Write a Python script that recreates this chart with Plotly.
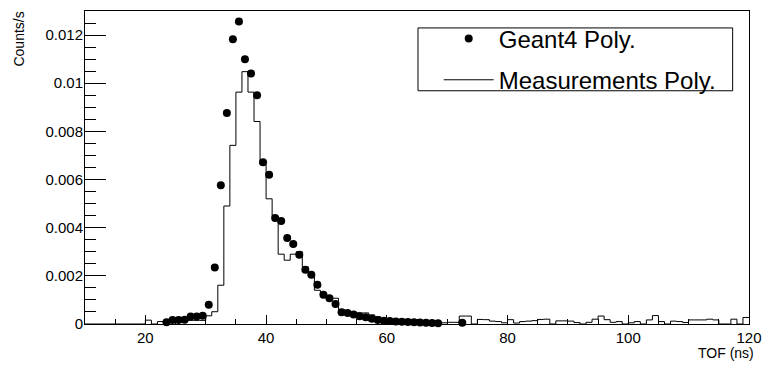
import plotly.graph_objects as go

# ---------------- data ----------------
# Measurements histogram: 1 ns bins, left edges 10..119
bin_left_edges = list(range(10, 120))
bin_right_edge = 120
meas_counts = [
    0, 0, 0, 0, 0, 0, 0, 0, 0, 0,                                  # 10-19
    0.00016, 0, 0.0001, 0.00007, 0.00007, 0.00012, 0.00012, 0.00015, 0.00015, 0.00015,  # 20-29
    0.00034, 0.00051, 0.00161, 0.0049, 0.00742, 0.00963, 0.01048, 0.00963, 0.00841, 0.00662,  # 30-39
    0.0052, 0.00447, 0.0029, 0.00265, 0.0029, 0.003, 0.00237, 0.002, 0.0014, 0.0012,  # 40-49
    0.00107, 0.00107, 0.0006, 0.00048, 0.00042, 0.00046, 0.00046, 0.00038, 0.0003, 0.00022,  # 50-59
    0.0002, 0.00015, 0.00013, 0.0001, 0.0001, 0.00009, 0.00008, 0.00007, 0.00006, 0.00005,  # 60-69
    0.00007, 0.00007, 0.00033, 0.00033, 0.0, 0.00019, 0.00018, 0.00012, 0.0001, 0.00005,  # 70-79
    0.00018, 0.00004, 0.0001, 0.00012, 0.00014, 0.00019, 0.0002, 0.0, 0.00013, 0.00013,  # 80-89
    0.00012, 0.00006, 0.0, 0.00007, 0.0002, 0.00033, 0.00018, 0.00007, 0.0001, 0.0,  # 90-99
    0.00005, 0.0001, 0.0, 0.00017, 0.00035, 0.0001, 0.0, 0.00012, 0.0001, 0.00006,  # 100-109
    0.00017, 0.00017, 0.00017, 0.0002, 0.00017, 0.0, 0.0, 0.0002, 0.0, 0.00027,  # 110-119
]

# Geant4 simulation points (bin centres)
geant_x = [23.5, 24.5, 25.5, 26.5, 27.5, 28.5, 29.5, 30.5, 31.5, 32.5,
           33.5, 34.5, 35.5, 36.5, 37.5, 38.5, 39.5, 40.5, 41.5, 42.5,
           43.5, 44.5, 45.5, 46.5, 47.5, 48.5, 49.5, 50.5, 51.5, 52.5,
           53.5, 54.5, 55.5, 56.5, 57.5, 58.5, 59.5, 60.5, 61.5, 62.5,
           63.5, 64.5, 65.5, 66.5, 67.5, 68.5, 72.5]
geant_y = [0.00007, 0.00017, 0.00017, 0.00018, 0.00031, 0.00031, 0.00034, 0.0008, 0.00235, 0.00576,
           0.00876, 0.01183, 0.01256, 0.0110, 0.0104, 0.0095, 0.00672, 0.0062, 0.0044, 0.00428,
           0.00357, 0.00332, 0.00288, 0.00225, 0.00205, 0.00163, 0.00121, 0.00107, 0.00083, 0.00049,
           0.00046, 0.00039, 0.00032, 0.00028, 0.00022, 0.00017, 0.00014, 0.00012, 0.0001, 0.00009,
           0.00008, 0.00007, 0.00006, 0.00005, 0.00004, 0.00003, 0.00005]

x_range = [10, 120]
y_range = [0, 0.013]
x_tick_vals = [20, 40, 60, 80, 100, 120]
y_tick_vals = [0, 0.002, 0.004, 0.006, 0.008, 0.01, 0.012]
y_tick_text = ["0", "0.002", "0.004", "0.006", "0.008", "0.01", "0.012"]

FONT = "Liberation Sans, Arial, Helvetica, sans-serif"

# histogram outline (step) built from the bin edges
hist_x = bin_left_edges + [bin_right_edge]
hist_y = meas_counts + [meas_counts[-1]]

fig = go.Figure()
fig.add_trace(go.Scatter(
    x=geant_x, y=geant_y, mode="markers", name="Geant4 Poly.",
    legendgroup="g4",
    marker=dict(color="black", size=8, symbol="circle"),
    cliponaxis=False,
))
fig.add_trace(go.Scatter(
    x=hist_x, y=hist_y, mode="lines", name="Measurements Poly.",
    legendgroup="meas",
    line=dict(color="black", width=1, shape="hv"),
))

fig.update_layout(
    width=772, height=367,
    margin=dict(l=85, r=15, t=10, b=43),
    paper_bgcolor="white", plot_bgcolor="white",
    font=dict(family=FONT, color="black", size=14),
    showlegend=True,
    legend=dict(
        x=0.5327, y=0.9825, xanchor="left", yanchor="top",
        borderwidth=0, bgcolor="rgba(0,0,0,0)",
        font=dict(family=FONT, size=24, color="black"),
        traceorder="grouped", tracegroupgap=7, itemwidth=50,
    ),
    # legend frame
    shapes=[dict(type="rect", xref="paper", yref="paper",
                 x0=0.5015, x1=0.9754, y0=0.7452, y1=0.9459,
                 line=dict(color="black", width=1), fillcolor="rgba(0,0,0,0)",
                 layer="above")],
    xaxis=dict(
        range=x_range, showgrid=False, zeroline=False,
        showline=True, linecolor="black", linewidth=1, mirror=True,
        ticks="inside", ticklen=9, tickcolor="black",
        tickvals=x_tick_vals, tickfont=dict(size=15),
        minor=dict(dtick=5, tick0=0, ticks="inside", ticklen=5, tickcolor="black"),
    ),
    yaxis=dict(
        range=y_range, showgrid=False, zeroline=False,
        showline=True, linecolor="black", linewidth=1, mirror=True,
        ticks="inside", ticklen=21, tickcolor="black",
        tickvals=y_tick_vals, ticktext=y_tick_text, tickfont=dict(size=15),
        ticklabelstandoff=-2,
        minor=dict(dtick=0.0005, tick0=0, ticks="inside", ticklen=11, tickcolor="black"),
    ),
    annotations=[
        dict(text="TOF (ns)", xref="paper", yref="paper", x=1.01, y=-0.092,
             xanchor="right", yanchor="middle", showarrow=False,
             font=dict(family=FONT, size=14)),
        dict(text="Counts/s", xref="paper", yref="paper", x=-0.1, y=1.005,
             xanchor="center", yanchor="top", textangle=-90, showarrow=False,
             font=dict(family=FONT, size=14)),
    ],
)

fig.write_html("out.html")
